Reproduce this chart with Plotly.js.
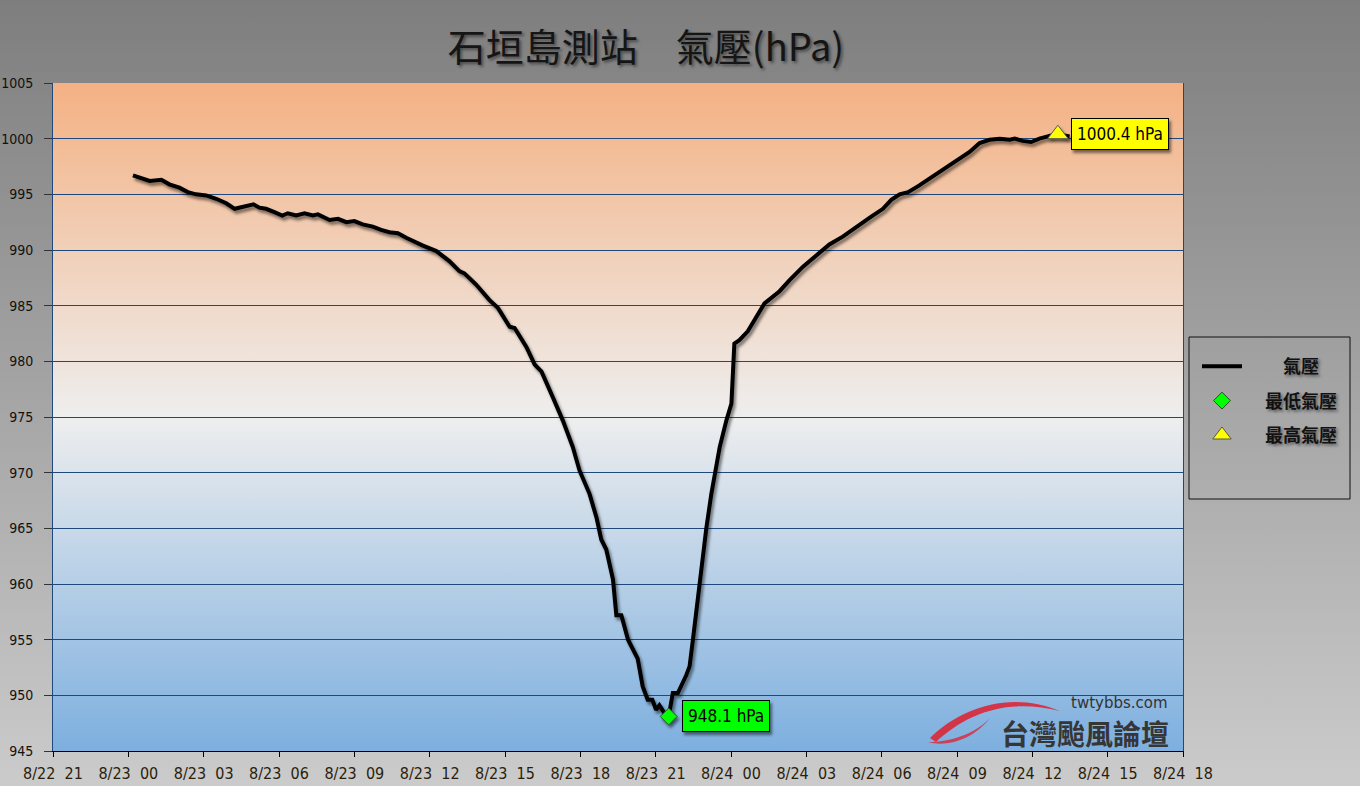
<!DOCTYPE html>
<html>
<head>
<meta charset="utf-8">
<script src="https://cdn.plot.ly/plotly-3.0.1.min.js"></script>
<style>
html,body{margin:0;padding:0;}
#wrap{position:relative;width:1360px;height:786px;background:linear-gradient(to bottom,#7e7e7e 0%,#cbcbcb 100%);overflow:hidden;}
#plotbg{position:absolute;left:53px;top:83px;width:1130px;height:668px;background:linear-gradient(to bottom,#f4b183 0%,#eeeeee 50%,#7dafdf 100%);}
#chart{position:absolute;left:0;top:0;width:1360px;height:786px;}
.scatterlayer .js-line{filter:url(#dsh);}
.scatterlayer .points path{filter:url(#dsh2);}
.annotation rect.bg{filter:url(#dsh2);}
</style>
</head>
<body>
<svg width="0" height="0" style="position:absolute">
  <defs>
    <filter id="dsh" filterUnits="userSpaceOnUse" x="-100" y="-100" width="3000" height="2000">
      <feDropShadow dx="2" dy="3" stdDeviation="1.6" flood-color="#000" flood-opacity="0.5"/>
    </filter>
    <filter id="dsh2" x="-50%" y="-50%" width="200%" height="200%">
      <feDropShadow dx="2" dy="3" stdDeviation="1.5" flood-color="#000" flood-opacity="0.5"/>
    </filter>
  </defs>
</svg>
<div id="wrap">
  <div id="plotbg"></div>
  <div id="chart"></div>
</div>
<script>
// ---- data ----
const times = [
 '2015-08-23 00:11','2015-08-23 00:35','2015-08-23 00:51','2015-08-23 01:19','2015-08-23 01:38',
 '2015-08-23 02:02','2015-08-23 02:22','2015-08-23 02:42','2015-08-23 03:06','2015-08-23 03:30',
 '2015-08-23 03:54','2015-08-23 04:14','2015-08-23 04:34','2015-08-23 04:59','2015-08-23 05:13',
 '2015-08-23 05:29','2015-08-23 05:49','2015-08-23 06:08','2015-08-23 06:21','2015-08-23 06:41',
 '2015-08-23 07:01','2015-08-23 07:21','2015-08-23 07:33','2015-08-23 08:01','2015-08-23 08:21',
 '2015-08-23 08:41','2015-08-23 09:00','2015-08-23 09:20','2015-08-23 09:44','2015-08-23 10:04',
 '2015-08-23 10:24','2015-08-23 10:44','2015-08-23 11:04','2015-08-23 11:24','2015-08-23 11:44',
 '2015-08-23 12:16','2015-08-23 12:47','2015-08-23 13:11','2015-08-23 13:23','2015-08-23 13:51',
 '2015-08-23 14:23','2015-08-23 14:43','2015-08-23 15:11','2015-08-23 15:23','2015-08-23 15:51',
 '2015-08-23 16:11','2015-08-23 16:27','2015-08-23 16:54','2015-08-23 17:18','2015-08-23 17:42',
 '2015-08-23 17:58','2015-08-23 18:22','2015-08-23 18:39','2015-08-23 18:50','2015-08-23 19:02',
 '2015-08-23 19:18','2015-08-23 19:26','2015-08-23 19:38','2015-08-23 19:54','2015-08-23 20:17',
 '2015-08-23 20:29','2015-08-23 20:41','2015-08-23 20:52','2015-08-23 21:01','2015-08-23 21:09',
 '2015-08-23 21:21','2015-08-23 21:31','2015-08-23 21:41','2015-08-23 21:53','2015-08-23 22:13',
 '2015-08-23 22:21','2015-08-23 22:30','2015-08-23 22:45','2015-08-23 22:53','2015-08-23 23:01',
 '2015-08-23 23:13','2015-08-23 23:21','2015-08-23 23:33','2015-08-23 23:49','2015-08-24 00:01',
 '2015-08-24 00:08','2015-08-24 00:20','2015-08-24 00:40','2015-08-24 00:56','2015-08-24 01:20',
 '2015-08-24 01:56','2015-08-24 02:20','2015-08-24 02:52','2015-08-24 03:28','2015-08-24 03:55',
 '2015-08-24 04:27','2015-08-24 04:59','2015-08-24 05:35','2015-08-24 06:03','2015-08-24 06:23',
 '2015-08-24 06:43','2015-08-24 07:03','2015-08-24 07:30','2015-08-24 07:54','2015-08-24 08:26',
 '2015-08-24 09:06','2015-08-24 09:30','2015-08-24 09:54','2015-08-24 10:18','2015-08-24 10:42',
 '2015-08-24 11:06','2015-08-24 11:18','2015-08-24 11:37','2015-08-24 11:57','2015-08-24 12:17',
 '2015-08-24 12:45','2015-08-24 13:01','2015-08-24 13:29'
];
const pressure = [
 996.7,996.4,996.2,996.3,995.9,
 995.6,995.2,995.0,994.9,994.6,
 994.2,993.7,993.9,994.1,993.8,
 993.7,993.4,993.1,993.3,993.1,
 993.3,993.1,993.2,992.7,992.8,
 992.5,992.6,992.3,992.1,991.8,
 991.6,991.5,991.1,990.7,990.4,
 989.9,989.0,988.1,987.9,986.9,
 985.5,984.8,983.1,983.0,981.3,
 979.7,979.1,976.8,974.7,972.3,
 970.2,968.1,965.9,964.0,963.1,
 960.4,957.2,957.2,955.0,953.3,
 950.8,949.6,949.6,948.7,949.1,
 948.4,948.1,950.2,950.2,951.8,
 952.6,955.3,960.1,963.1,965.0,
 968.1,970.0,972.3,974.7,976.2,
 981.6,981.9,982.7,983.7,985.2,
 986.3,987.3,988.5,989.7,990.5,
 991.2,992.1,993.0,993.7,994.5,
 995.0,995.2,995.8,996.4,997.2,
 998.1,998.8,999.6,999.9,1000.0,
 999.9,1000.0,999.8,999.7,1000.0,
 1000.3,1000.4,1000.2
];
const tickVals = [
 '2015-08-22 21:00','2015-08-23 00:00','2015-08-23 03:00','2015-08-23 06:00','2015-08-23 09:00',
 '2015-08-23 12:00','2015-08-23 15:00','2015-08-23 18:00','2015-08-23 21:00','2015-08-24 00:00',
 '2015-08-24 03:00','2015-08-24 06:00','2015-08-24 09:00','2015-08-24 12:00','2015-08-24 15:00',
 '2015-08-24 18:00'
];
const tickText = [
 '8/22\u00a0\u00a021','8/23\u00a0\u00a000','8/23\u00a0\u00a003','8/23\u00a0\u00a006','8/23\u00a0\u00a009',
 '8/23\u00a0\u00a012','8/23\u00a0\u00a015','8/23\u00a0\u00a018','8/23\u00a0\u00a021','8/24\u00a0\u00a000',
 '8/24\u00a0\u00a003','8/24\u00a0\u00a006','8/24\u00a0\u00a009','8/24\u00a0\u00a012','8/24\u00a0\u00a015',
 '8/24\u00a0\u00a018'
];
const seriesName = '氣壓';
const minName = '最低氣壓';
const maxName = '最高氣壓';
const chartTitle = '石垣島測站　氣壓(hPa)';
const unit = ' hPa';

// ---- derived ----
let minIdx = 0, maxIdx = 0;
pressure.forEach((v,i)=>{ if(v < pressure[minIdx]) minIdx = i; if(v > pressure[maxIdx]) maxIdx = i; });

const CJK = '"Noto Sans CJK TC","Noto Sans CJK SC",sans-serif';
const COND = '"DejaVu Sans Condensed",sans-serif';
const shadow = '2px 2px 3px rgba(0,0,0,0.45)';

const traces = [
  {x: times, y: pressure, type:'scatter', mode:'lines', name:'\u3000\u3000'+seriesName,
   line:{color:'#000', width:4}, legendgroup:'a', hoverinfo:'x+y'},
  {x:[times[minIdx]], y:[pressure[minIdx]], type:'scatter', mode:'markers', name:'\u3000'+minName,
   marker:{symbol:'diamond', size:13, color:'#00ff00', line:{color:'#2d4a2d', width:1}}, legendgroup:'b'},
  {x:[times[maxIdx]], y:[pressure[maxIdx]], type:'scatter', mode:'markers', name:'\u3000'+maxName,
   marker:{symbol:'triangle-up', size:18, color:'#ffff00', line:{color:'#555', width:1}}, legendgroup:'c'}
];

const px = v => (v-53)/1130;   // helpers for decoration placement in paper units
const py = v => (751-v)/668;

const layout = {
  width:1360, height:786,
  paper_bgcolor:'rgba(0,0,0,0)', plot_bgcolor:'rgba(0,0,0,0)',
  margin:{l:53, r:177, t:83, b:35, pad:0},
  title:{text:chartTitle, x:646/1360, xanchor:'center', y:1-48/786, yanchor:'middle',
         font:{family:CJK, size:38, color:'#151515', shadow:shadow}},
  showlegend:true,
  xaxis:{type:'date', range:['2015-08-22 21:00','2015-08-24 18:00'],
         tickmode:'array', tickvals:tickVals, ticktext:tickText,
         ticks:'outside', ticklen:5, tickcolor:'#000', tickwidth:1,
         showline:true, linecolor:'#000', linewidth:1, showgrid:false, zeroline:false,
         ticklabelstandoff:3,
         tickfont:{family:COND, size:16, color:'#2a1e0a'}, fixedrange:true},
  yaxis:{range:[945,1005], tick0:945, dtick:5, ticks:'outside', ticklen:8, tickcolor:'#333',
         showgrid:true, gridcolor:'#1f497d', gridwidth:1,
         showline:true, mirror:true, linecolor:'#1f497d', linewidth:1, zeroline:false,
         ticklabelstandoff:8,
         tickfont:{family:COND, size:14, color:'#111'}, fixedrange:true},
  legend:{x:px(1197), xanchor:'left', y:py(348), yanchor:'top', bgcolor:'rgba(0,0,0,0)',
          borderwidth:0, itemwidth:40, tracegroupgap:8,
          font:{family:CJK, size:18, color:'#111', weight:'bold', shadow:shadow}},
  shapes:[
    {type:'rect', xref:'paper', yref:'paper', x0:px(1189), x1:px(1350), y0:py(499), y1:py(337),
     line:{color:'#111', width:1}, fillcolor:'rgba(0,0,0,0)'},
    {type:'path', xref:'paper', yref:'paper', layer:'above',
     path:`M ${px(930)},${py(738)} C ${px(960)},${py(708)} ${px(1010)},${py(690)} ${px(1060)},${py(711)} C ${px(1010)},${py(698)} ${px(968)},${py(712)} ${px(936)},${py(742)} Z`,
     fillcolor:'rgba(225,30,45,0.85)', line:{width:0}},
    {type:'path', xref:'paper', yref:'paper', layer:'above',
     path:`M ${px(928)},${py(742)} C ${px(948)},${py(748)} ${px(975)},${py(738)} ${px(990)},${py(718)} C ${px(975)},${py(734)} ${px(950)},${py(742)} ${px(928)},${py(742)} Z`,
     fillcolor:'rgba(225,30,45,0.75)', line:{width:0}}
  ],
  annotations:[
    {x:times[minIdx], y:pressure[minIdx], xref:'x', yref:'y', showarrow:false,
     xanchor:'left', yanchor:'middle', xshift:13,
     text:pressure[minIdx].toFixed(1)+unit, bgcolor:'#00ff00', bordercolor:'#000', borderwidth:1, borderpad:5,
     font:{family:COND, size:17, color:'#000'}},
    {x:times[maxIdx], y:pressure[maxIdx], xref:'x', yref:'y', showarrow:false,
     xanchor:'left', yanchor:'middle', xshift:13,
     text:pressure[maxIdx].toFixed(1)+unit, bgcolor:'#ffff00', bordercolor:'#000', borderwidth:1, borderpad:5,
     font:{family:COND, size:17, color:'#000'}},
    {x:px(1170), y:py(703), xref:'paper', yref:'paper', showarrow:false, xanchor:'right', yanchor:'middle',
     text:'twtybbs.com', font:{family:'"DejaVu Sans",sans-serif', size:15, color:'#333'}},
    {x:px(1171), y:py(733), xref:'paper', yref:'paper', showarrow:false, xanchor:'right', yanchor:'middle',
     text:'台灣颱風論壇', font:{family:CJK, size:28, color:'#363636', weight:'bold'}}
  ]
};

Plotly.newPlot('chart', traces, layout, {displayModeBar:false, responsive:false});
</script>
</body>
</html>
